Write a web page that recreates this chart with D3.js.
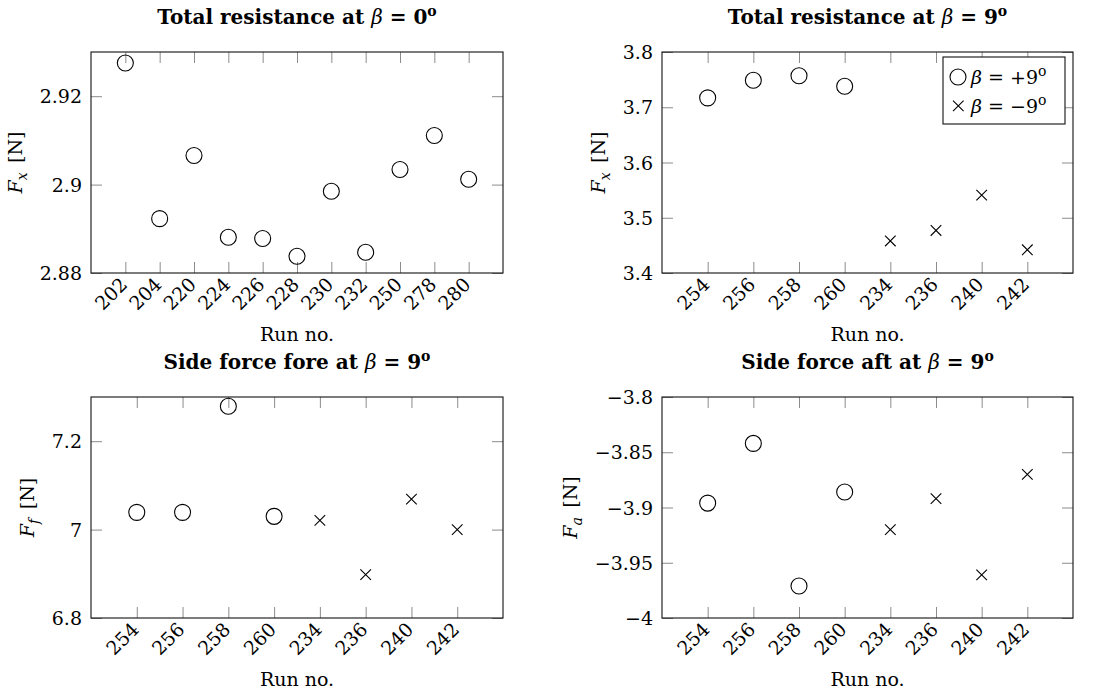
<!DOCTYPE html>
<html>
<head>
<meta charset="utf-8">
<script src="https://cdn.jsdelivr.net/npm/d3@7"></script>
<style>
  body { margin: 0; background: #fff; }
  svg { display: block; font-family: "DejaVu Serif", "Liberation Serif", serif; }
  .tick line { stroke: #8c8c8c; stroke-width: 1; }
</style>
</head>
<body>
<svg id="chart" width="1104" height="697"></svg>
<script>
// run numbers
const runsZero = ["202", "204", "220", "224", "226", "228", "230", "232", "250", "278", "280"]
const runsPos = ["254", "256", "258", "260"]
const runsNeg = ["234", "236", "240", "242"]

// total resistance, beta = 0
const fxZero = [2.9275, 2.8923, 2.9066, 2.8881, 2.8878, 2.8838, 2.8985, 2.8847, 2.9034, 2.9111, 2.9012]
// total resistance, beta = +9 / -9
const fxPos = [3.717, 3.749, 3.757, 3.738]
const fxNeg = [3.458, 3.477, 3.541, 3.442]
// side force fore
const ffPos = [7.039, 7.039, 7.279, 7.030]
const ffNeg = [7.021, 6.898, 7.069, 7.000]
// side force aft
const faPos = [-3.896, -3.842, -3.971, -3.886]
const faNeg = [-3.920, -3.892, -3.961, -3.870]

// y ticks
const ticksFxZero = [2.88, 2.9, 2.92]
const labelsFxZero = ["2.88", "2.9", "2.92"]
const ticksFx = [3.4, 3.5, 3.6, 3.7, 3.8]
const labelsFx = ["3.4", "3.5", "3.6", "3.7", "3.8"]
const ticksFf = [6.8, 7, 7.2]
const labelsFf = ["6.8", "7", "7.2"]
const ticksFa = [-4, -3.95, -3.9, -3.85, -3.8]
const labelsFa = ["\u22124", "\u22123.95", "\u22123.9", "\u22123.85", "\u22123.8"]

const svg = d3.select("#chart")
const fontSize = 19
const tickLen = 11

function addTitle(g, w, label, angle) {
    const t = g.append("text")
        .attr("x", w / 2)
        .attr("y", -28.5)
        .attr("text-anchor", "middle")
        .attr("font-size", 20)
        .attr("font-weight", "bold")
    t.append("tspan").text(label + " at ")
    t.append("tspan").attr("font-style", "italic").attr("font-weight", "normal").text("\u03b2")
    t.append("tspan").text(" = " + angle)
    t.append("tspan").attr("font-size", 14).attr("dy", -8).text("o")
}

function drawPanel(opt) {
    const { left, top, w, h } = opt
    const g = svg.append("g").attr("transform", `translate(${left}, ${top})`)
    const x = d3.scalePoint().domain(opt.runs).range([0, w]).padding(1)
    const y = d3.scaleLinear().domain(opt.yDomain).range([h, 0])

    // axes: ticks inward on all four sides
    const yAxis = g.append("g")
        .call(d3.axisLeft(y).tickValues(opt.yTicks).tickFormat((d, i) => opt.yLabels[i])
            .tickSizeInner(-tickLen).tickSizeOuter(0).tickPadding(9))
    const yRight = g.append("g").attr("transform", `translate(${w}, 0)`)
        .call(d3.axisRight(y).tickValues(opt.yTicks).tickFormat("").tickSizeInner(-tickLen).tickSizeOuter(0))
    const xAxis = g.append("g").attr("transform", `translate(0, ${h})`)
        .call(d3.axisBottom(x).tickSizeInner(-tickLen).tickSizeOuter(0))
    const xTop = g.append("g")
        .call(d3.axisTop(x).tickFormat("").tickSizeInner(-tickLen).tickSizeOuter(0))
    for (const a of [yAxis, yRight, xAxis, xTop]) a.attr("font-family", null).attr("font-size", fontSize)
    g.selectAll(".domain").remove()
    g.selectAll(".tick text").attr("fill", "#000")

    xAxis.selectAll(".tick text")
        .attr("y", 0)
        .attr("x", 0)
        .attr("dy", "0.35em")
        .attr("text-anchor", "end")
        .attr("transform", "translate(-2, 8) rotate(-45)")
    yAxis.selectAll(".tick text").attr("dy", "0.35em")

    g.append("rect")
        .attr("width", w)
        .attr("height", h)
        .attr("fill", "none")
        .attr("stroke", "#111")
        .attr("stroke-width", 1.1)

    addTitle(g, w, opt.title, opt.angle)

    // axis labels
    g.append("text")
        .attr("x", w / 2)
        .attr("y", h + 68)
        .attr("text-anchor", "middle")
        .attr("font-size", fontSize)
        .text("Run no.")

    const bb = yAxis.node().getBBox()
    const yl = g.append("text")
        .attr("transform", `translate(${bb.x - 24}, ${h / 2}) rotate(-90)`)
        .attr("text-anchor", "middle")
        .attr("dy", "0.35em")
        .attr("font-size", fontSize)
    yl.append("tspan").attr("font-style", "italic").text("F")
    yl.append("tspan").attr("font-style", "italic").attr("font-size", 14).attr("dy", 5).text(opt.sub)
    yl.append("tspan").attr("dy", -5).text("\u2002[N]")

    // markers
    const circles = opt.circles
    g.selectAll("circle.pt")
        .data(circles.runs.map((r, i) => [r, circles.values[i]]))
        .join("circle")
        .attr("class", "pt")
        .attr("cx", d => x(d[0]))
        .attr("cy", d => y(d[1]))
        .attr("r", 8)
        .attr("fill", "none")
        .attr("stroke", "#000")
        .attr("stroke-width", 1.1)

    if (opt.crosses) {
        const crosses = opt.crosses
        const s = 5.3
        g.selectAll("path.pt")
            .data(crosses.runs.map((r, i) => [r, crosses.values[i]]))
            .join("path")
            .attr("class", "pt")
            .attr("d", d => {
                const cx = x(d[0]), cy = y(d[1])
                return `M${cx - s},${cy - s}L${cx + s},${cy + s}M${cx - s},${cy + s}L${cx + s},${cy - s}`
            })
            .attr("fill", "none")
            .attr("stroke", "#000")
            .attr("stroke-width", 1.1)
    }
    return g
}

drawPanel({
    left: 91, top: 52, w: 412, h: 221,
    title: "Total resistance", angle: "0",
    runs: runsZero, yDomain: [2.88, 2.93], yTicks: ticksFxZero, yLabels: labelsFxZero, sub: "x",
    circles: { runs: runsZero, values: fxZero }
})

const p2 = drawPanel({
    left: 662, top: 52, w: 411, h: 221,
    title: "Total resistance", angle: "9",
    runs: runsPos.concat(runsNeg), yDomain: [3.4, 3.8], yTicks: ticksFx, yLabels: labelsFx, sub: "x",
    circles: { runs: runsPos, values: fxPos },
    crosses: { runs: runsNeg, values: fxNeg }
})

drawPanel({
    left: 91, top: 397, w: 412, h: 221,
    title: "Side force fore", angle: "9",
    runs: runsPos.concat(runsNeg), yDomain: [6.8, 7.3], yTicks: ticksFf, yLabels: labelsFf, sub: "f",
    circles: { runs: runsPos, values: ffPos },
    crosses: { runs: runsNeg, values: ffNeg }
})

drawPanel({
    left: 662, top: 397, w: 411, h: 221,
    title: "Side force aft", angle: "9",
    runs: runsPos.concat(runsNeg), yDomain: [-4, -3.8], yTicks: ticksFa, yLabels: labelsFa, sub: "a",
    circles: { runs: runsPos, values: faPos },
    crosses: { runs: runsNeg, values: faNeg }
})

// legend in the top right panel
const legend = p2.append("g").attr("transform", "translate(281, 5)")
legend.append("rect")
    .attr("width", 122)
    .attr("height", 67)
    .attr("fill", "#fff")
    .attr("stroke", "#111")
    .attr("stroke-width", 1.1)
legend.append("circle")
    .attr("cx", 15).attr("cy", 20).attr("r", 8)
    .attr("fill", "none").attr("stroke", "#000").attr("stroke-width", 1.1)
legend.append("path")
    .attr("d", "M10,43.6L20.6,54.2M10,54.2L20.6,43.6")
    .attr("fill", "none").attr("stroke", "#000").attr("stroke-width", 1.1)
const legendLabels = ["+9", "\u22129"]
legendLabels.forEach((lab, i) => {
    const t = legend.append("text")
        .attr("x", 28)
        .attr("y", 20 + i * 29)
        .attr("dy", "0.35em")
        .attr("font-size", fontSize)
    t.append("tspan").attr("font-style", "italic").text("\u03b2")
    t.append("tspan").text(" = " + lab)
    t.append("tspan").attr("font-size", 14).attr("dy", -8).text("o")
})
</script>
</body>
</html>
